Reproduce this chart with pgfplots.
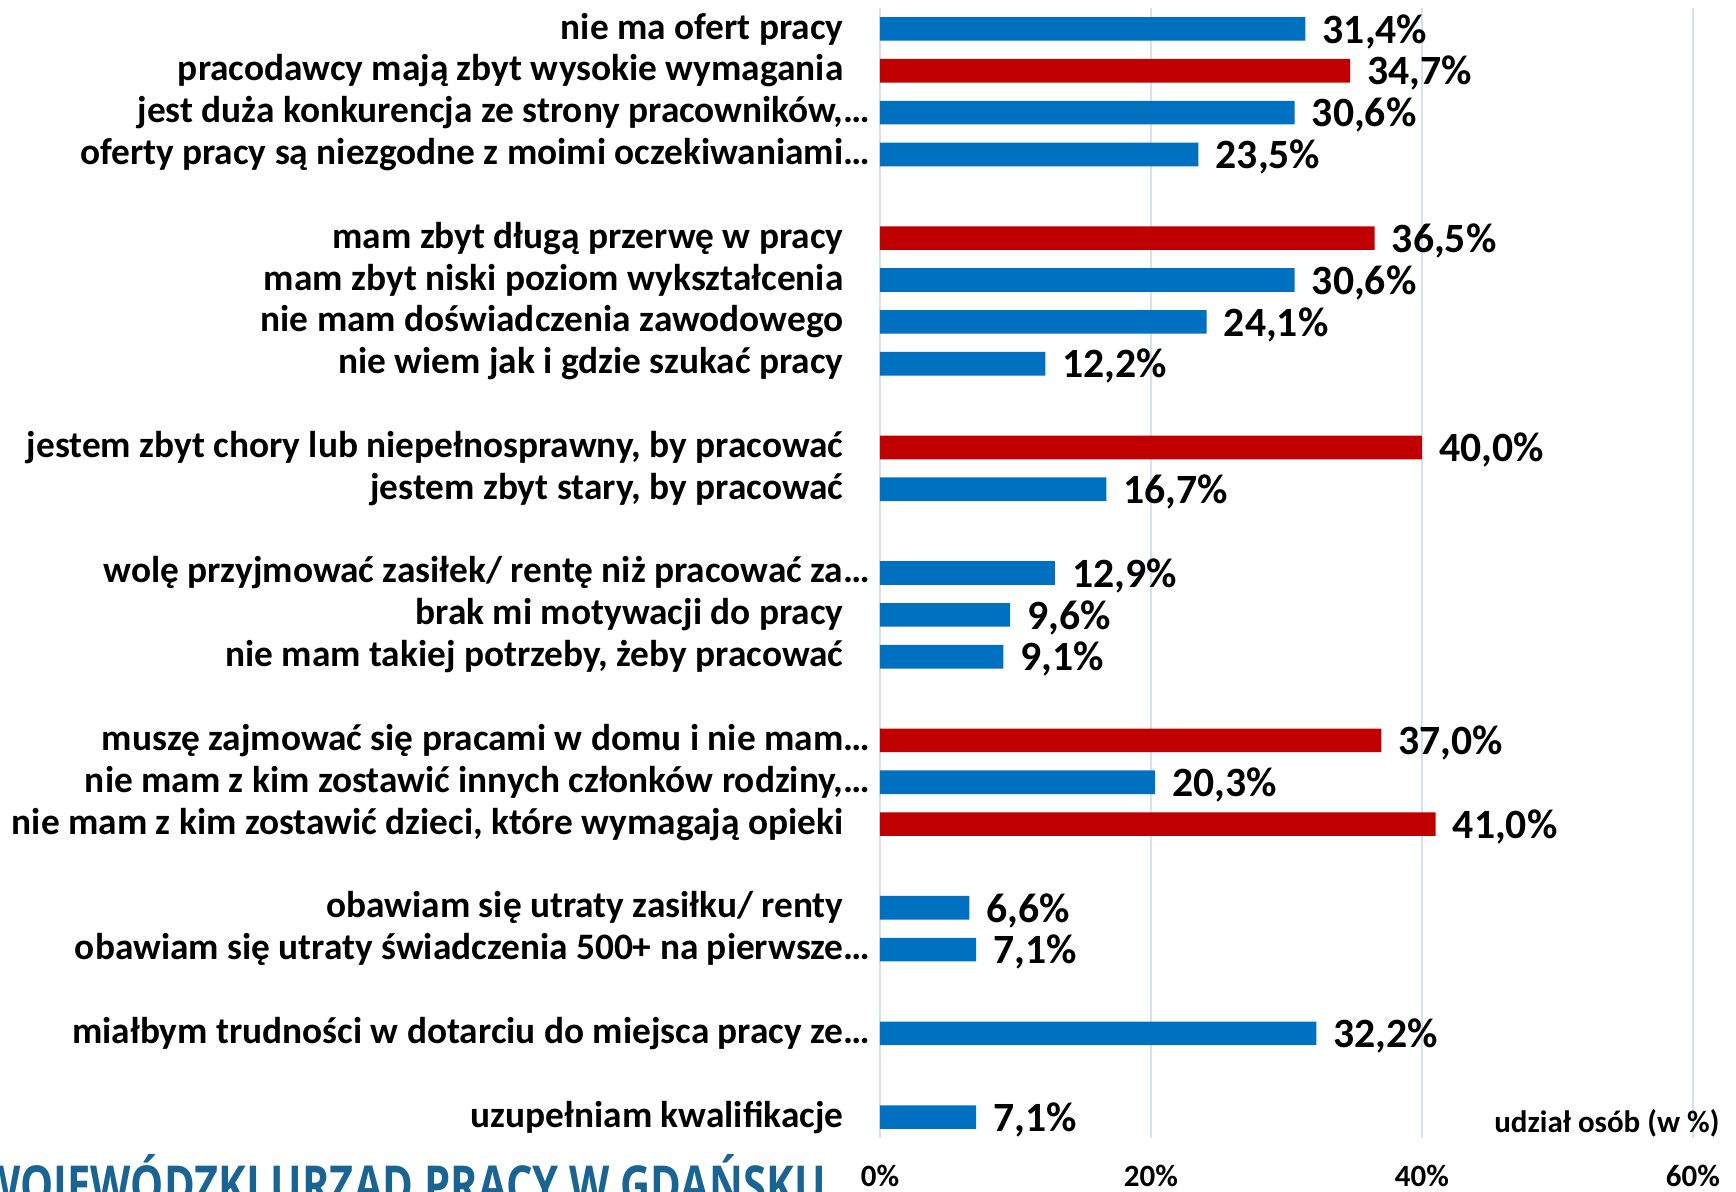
\documentclass[border=0pt]{standalone}
\usepackage{fontspec}
\setmainfont{Carlito}
\newfontfamily\wupfont{Open Sans}
\usepackage{pgfplots}
\pgfplotsset{compat=1.18}
\usetikzlibrary{calc}

\definecolor{barblue}{HTML}{0070C0}
\definecolor{barred}{HTML}{C00000}
\definecolor{gridc}{HTML}{D6E0EE}
\definecolor{wupblue}{HTML}{1A6494}

\begin{document}
\begin{tikzpicture}
\begin{axis}[
    scale only axis,
    width=243.9pt, height=339pt,
    xmin=0, xmax=60,
    ymin=-0.5, ymax=26.5,
    y dir=reverse,
    xbar, bar width=0.565, bar shift=0pt,
    clip=false,
    axis line style={draw=none},
    tick style={draw=none},
    xmajorgrids, grid style={gridc, line width=0.8pt},
    xtick={0,20,40,60},
    xticklabel={\pgfmathprintnumber{\tick}\%},
    xticklabel style={font=\bfseries\fontsize{9.3}{11}\selectfont, yshift=-4.7pt},
    /pgf/number format/assume math mode=true,
    ytick={0,1,2,3,5,6,7,8,10,11,13,14,15,17,18,19,21,22,24,26},
    yticklabels={
        nie ma ofert pracy,
        pracodawcy mają zbyt wysokie wymagania,
        {jest duża konkurencja ze strony pracowników,\rlap{…}},
        {oferty pracy są niezgodne z moimi oczekiwaniami\rlap{…}},
        mam zbyt długą przerwę w pracy,
        mam zbyt niski poziom wykształcenia,
        nie mam doświadczenia zawodowego,
        nie wiem jak i gdzie szukać pracy,
        {jestem zbyt chory lub niepełnosprawny, by pracować},
        {jestem zbyt stary, by pracować},
        {wolę przyjmować zasiłek/ rentę niż pracować za\rlap{…}},
        brak mi motywacji do pracy,
        {nie mam takiej potrzeby, żeby pracować},
        {muszę zajmować się pracami w domu i nie mam\rlap{…}},
        {nie mam z kim zostawić innych członków rodziny,\rlap{…}},
        {nie mam z kim zostawić dzieci, które wymagają opieki},
        obawiam się utraty zasiłku/ renty,
        {obawiam się utraty świadczenia 500+ na pierwsze\rlap{…}},
        {miałbym trudności w dotarciu do miejsca pracy ze\rlap{…}},
        uzupełniam kwalifikacje,
    },
    yticklabel style={font=\bfseries\fontsize{11.2}{13}\selectfont, anchor=east, inner sep=0pt, xshift=-6.5pt},
    nodes near coords={\pgfmathprintnumber[fixed,precision=1,zerofill,use comma]{\pgfplotspointmeta}\%},
    nodes near coords style={font=\bfseries\fontsize{12.5}{14}\selectfont, anchor=west, inner sep=0pt, xshift=5pt, yshift=-0.8pt},
]
\addplot[fill=barblue, draw=none] coordinates {
    (31.4,0) (30.6,2) (23.5,3) (30.6,6) (24.1,7) (12.2,8) (16.7,11)
    (12.9,13) (9.6,14) (9.1,15) (20.3,18) (6.6,21) (7.1,22) (32.2,24) (7.1,26)
};
\addplot[fill=barred, draw=none] coordinates {
    (34.7,1) (36.5,5) (40.0,10) (37.0,17) (41.0,19)
};
\node[anchor=east, inner sep=0pt, font=\bfseries\fontsize{9.3}{11}\selectfont, xshift=8.1pt, yshift=4.5pt] at (rel axis cs:1,0) {udział osób (w \%)};
\coordinate (ll) at (rel axis cs:0,0);
\coordinate (ur) at (rel axis cs:1,1);
\end{axis}
\node[anchor=base west, inner sep=0pt, text=wupblue] at ($(ll)+(-270pt,-20.1pt)$)
    {\resizebox{253.5pt}{15pt}{\wupfont\bfseries WOJEWÓDZKI URZĄD PRACY W GDAŃSKU}};
\pgfresetboundingbox
\path[use as bounding box] ($(ll)+(-264pt,-16.2pt)$) rectangle ($(ur)+(12.9pt,2.4pt)$);
\end{tikzpicture}
\end{document}
